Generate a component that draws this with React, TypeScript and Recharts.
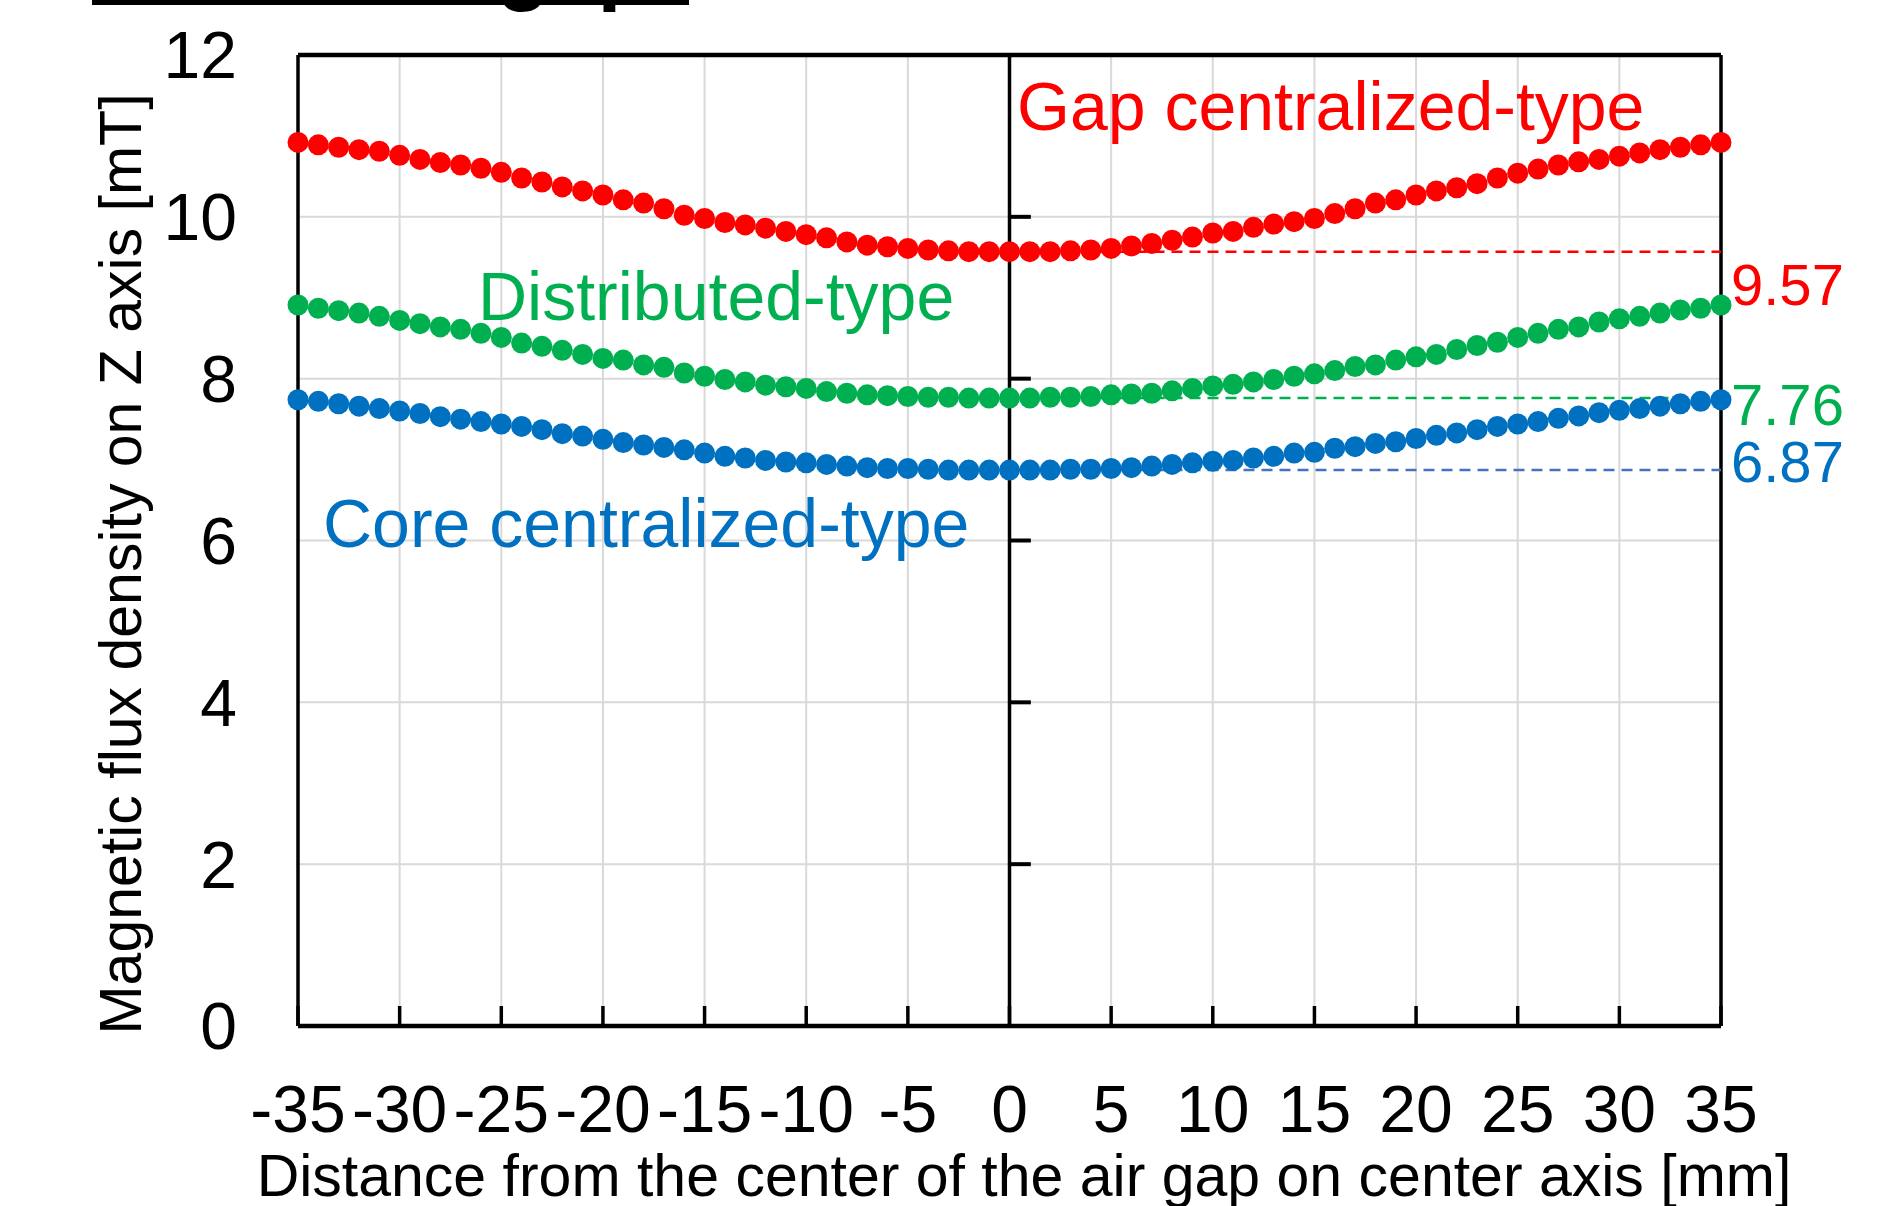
import { ScatterChart, Scatter, XAxis, YAxis, CartesianGrid, ReferenceLine } from 'recharts';

const FONT = '"Liberation Sans", Arial, sans-serif';

// distance from the center of the air gap [mm]
const distance = [
  -35, -34, -33, -32, -31, -30, -29, -28, -27, -26,
  -25, -24, -23, -22, -21, -20, -19, -18, -17, -16,
  -15, -14, -13, -12, -11, -10, -9, -8, -7, -6,
  -5, -4, -3, -2, -1, 0, 1, 2, 3, 4,
  5, 6, 7, 8, 9, 10, 11, 12, 13, 14,
  15, 16, 17, 18, 19, 20, 21, 22, 23, 24,
  25, 26, 27, 28, 29, 30, 31, 32, 33, 34, 35,
];

// flux density [mT]
const gapCentralized = [
  10.92, 10.89, 10.86, 10.83, 10.81, 10.76, 10.71, 10.67, 10.64, 10.6,
  10.55, 10.48, 10.43, 10.37, 10.32, 10.27, 10.21, 10.17, 10.1, 10.02,
  9.98, 9.93, 9.9, 9.86, 9.82, 9.78, 9.74, 9.69, 9.65, 9.63,
  9.61, 9.59, 9.58, 9.57, 9.57, 9.57, 9.57, 9.57, 9.58, 9.59,
  9.61, 9.64, 9.67, 9.71, 9.75, 9.8, 9.82, 9.87, 9.91, 9.94,
  9.98, 10.04, 10.1, 10.17, 10.21, 10.27, 10.32, 10.36, 10.41, 10.48,
  10.54, 10.59, 10.64, 10.68, 10.71, 10.75, 10.79, 10.83, 10.86, 10.89, 10.92,
];

const distributed = [
  8.91, 8.87, 8.84, 8.81, 8.77, 8.72, 8.68, 8.64, 8.61, 8.56,
  8.51, 8.44, 8.4, 8.35, 8.3, 8.25, 8.23, 8.17, 8.14, 8.07,
  8.03, 7.99, 7.96, 7.92, 7.9, 7.88, 7.84, 7.82, 7.8, 7.79,
  7.78, 7.77, 7.77, 7.76, 7.76, 7.76, 7.76, 7.77, 7.77, 7.78,
  7.8, 7.81, 7.82, 7.85, 7.88, 7.91, 7.93, 7.96, 7.99, 8.03,
  8.06, 8.1, 8.15, 8.17, 8.23, 8.27, 8.3, 8.36, 8.41, 8.45,
  8.51, 8.56, 8.61, 8.64, 8.7, 8.74, 8.77, 8.81, 8.85, 8.87, 8.91,
];

const coreCentralized = [
  7.74, 7.72, 7.69, 7.66, 7.63, 7.6, 7.57, 7.53, 7.5, 7.47,
  7.44, 7.41, 7.37, 7.32, 7.29, 7.25, 7.21, 7.18, 7.15, 7.12,
  7.08, 7.04, 7.02, 6.99, 6.97, 6.96, 6.94, 6.92, 6.9, 6.89,
  6.89, 6.88, 6.87, 6.87, 6.87, 6.87, 6.87, 6.87, 6.88, 6.88,
  6.89, 6.9, 6.92, 6.94, 6.96, 6.98, 6.99, 7.02, 7.04, 7.08,
  7.09, 7.14, 7.16, 7.2, 7.22, 7.26, 7.3, 7.33, 7.37, 7.41,
  7.44, 7.47, 7.51, 7.54, 7.58, 7.61, 7.63, 7.66, 7.69, 7.72, 7.74,
];

const gapMin = 9.57;
const distributedMin = 7.76;
const coreMin = 6.87;

const xTicks = [-35, -30, -25, -20, -15, -10, -5, 0, 5, 10, 15, 20, 25, 30, 35];
const yTicks = [0, 2, 4, 6, 8, 10, 12];
const centerTicks = [2, 4, 6, 8, 10];

const RED = '#ff0000';
const GREEN = '#00b050';
const BLUE = '#0070c0';

const toPoints = (values: number[]) => distance.map((x, i) => ({ x, y: values[i] }));

const dot = (color: string) => (props: any) => (
  <circle cx={props.cx} cy={props.cy} r={10.5} fill={color} />
);

export default function App() {
  const tickStyle = { fill: '#000', fontSize: 66, fontFamily: FONT };

  return (
    <div style={{ position: 'absolute', left: 0, top: 0, width: 1904, height: 1206, background: '#fff', overflow: 'hidden' }}>
      <ScatterChart width={1904} height={1206} margin={{ top: 55, right: 183, bottom: 0, left: 0 }}>
        <CartesianGrid stroke="#d9d9d9" strokeWidth={2} />
        <XAxis
          type="number"
          dataKey="x"
          domain={[-35, 35]}
          ticks={xTicks}
          interval={0}
          height={180}
          tickSize={-20}
          tickMargin={79}
          tickLine={{ stroke: '#000', strokeWidth: 3.5 }}
          axisLine={{ stroke: '#000', strokeWidth: 4.5 }}
          tick={tickStyle}
        />
        <YAxis
          type="number"
          dataKey="y"
          domain={[0, 12]}
          ticks={yTicks}
          interval={0}
          width={298}
          tickLine={false}
          tickSize={0}
          tickMargin={61}
          axisLine={{ stroke: '#000', strokeWidth: 3.5 }}
          tick={tickStyle}
        />
        <ReferenceLine y={12} stroke="#000" strokeWidth={4.5} />
        <ReferenceLine x={35} stroke="#000" strokeWidth={3.5} />
        <ReferenceLine x={0} stroke="#000" strokeWidth={3.5} />
        {centerTicks.map((v) => (
          <ReferenceLine key={v} segment={[{ x: 0, y: v }, { x: 1.05, y: v }]} stroke="#000" strokeWidth={4} />
        ))}
        <ReferenceLine segment={[{ x: 0, y: gapMin }, { x: 35, y: gapMin }]} stroke={RED} strokeWidth={2.5} strokeDasharray="11 7" />
        <ReferenceLine segment={[{ x: 0, y: distributedMin }, { x: 35, y: distributedMin }]} stroke={GREEN} strokeWidth={2.5} strokeDasharray="11 7" />
        <ReferenceLine segment={[{ x: 0, y: coreMin }, { x: 35, y: coreMin }]} stroke="#4472c4" strokeWidth={2.5} strokeDasharray="11 7" />
        <Scatter data={toPoints(gapCentralized)} fill={RED} shape={dot(RED)} isAnimationActive={false} />
        <Scatter data={toPoints(distributed)} fill={GREEN} shape={dot(GREEN)} isAnimationActive={false} />
        <Scatter data={toPoints(coreCentralized)} fill={BLUE} shape={dot(BLUE)} isAnimationActive={false} />
      </ScatterChart>

      <svg width={1904} height={1206} style={{ position: 'absolute', left: 0, top: 0, pointerEvents: 'none' }} fontFamily={FONT}>
        {/* title cut off at the top edge */}
        <rect x={92} y={0} width={597} height={5} fill="#000" />
        <text x={650} y={-6} textAnchor="end" fontSize={86} fontWeight="bold" fill="#000">Central air gap</text>

        <text x={1017} y={130} fontSize={68} fill={RED}>Gap centralized-type</text>
        <text x={478} y={320} fontSize={68} fill={GREEN}>Distributed-type</text>
        <text x={323} y={547} fontSize={68} fill={BLUE}>Core centralized-type</text>

        <text x={1731} y={305} fontSize={58} fill={RED}>{gapMin.toFixed(2)}</text>
        <text x={1731} y={425} fontSize={58} fill={GREEN}>{distributedMin.toFixed(2)}</text>
        <text x={1731} y={482} fontSize={58} fill={BLUE}>{coreMin.toFixed(2)}</text>

        <text x={141} y={564} fontSize={59} fill="#000" textAnchor="middle" transform="rotate(-90 141 564)">
          Magnetic flux density on Z axis [mT]
        </text>
        <text x={1024} y={1196} fontSize={59} fill="#000" textAnchor="middle">
          Distance from the center of the air gap on center axis [mm]
        </text>
      </svg>
    </div>
  );
}
